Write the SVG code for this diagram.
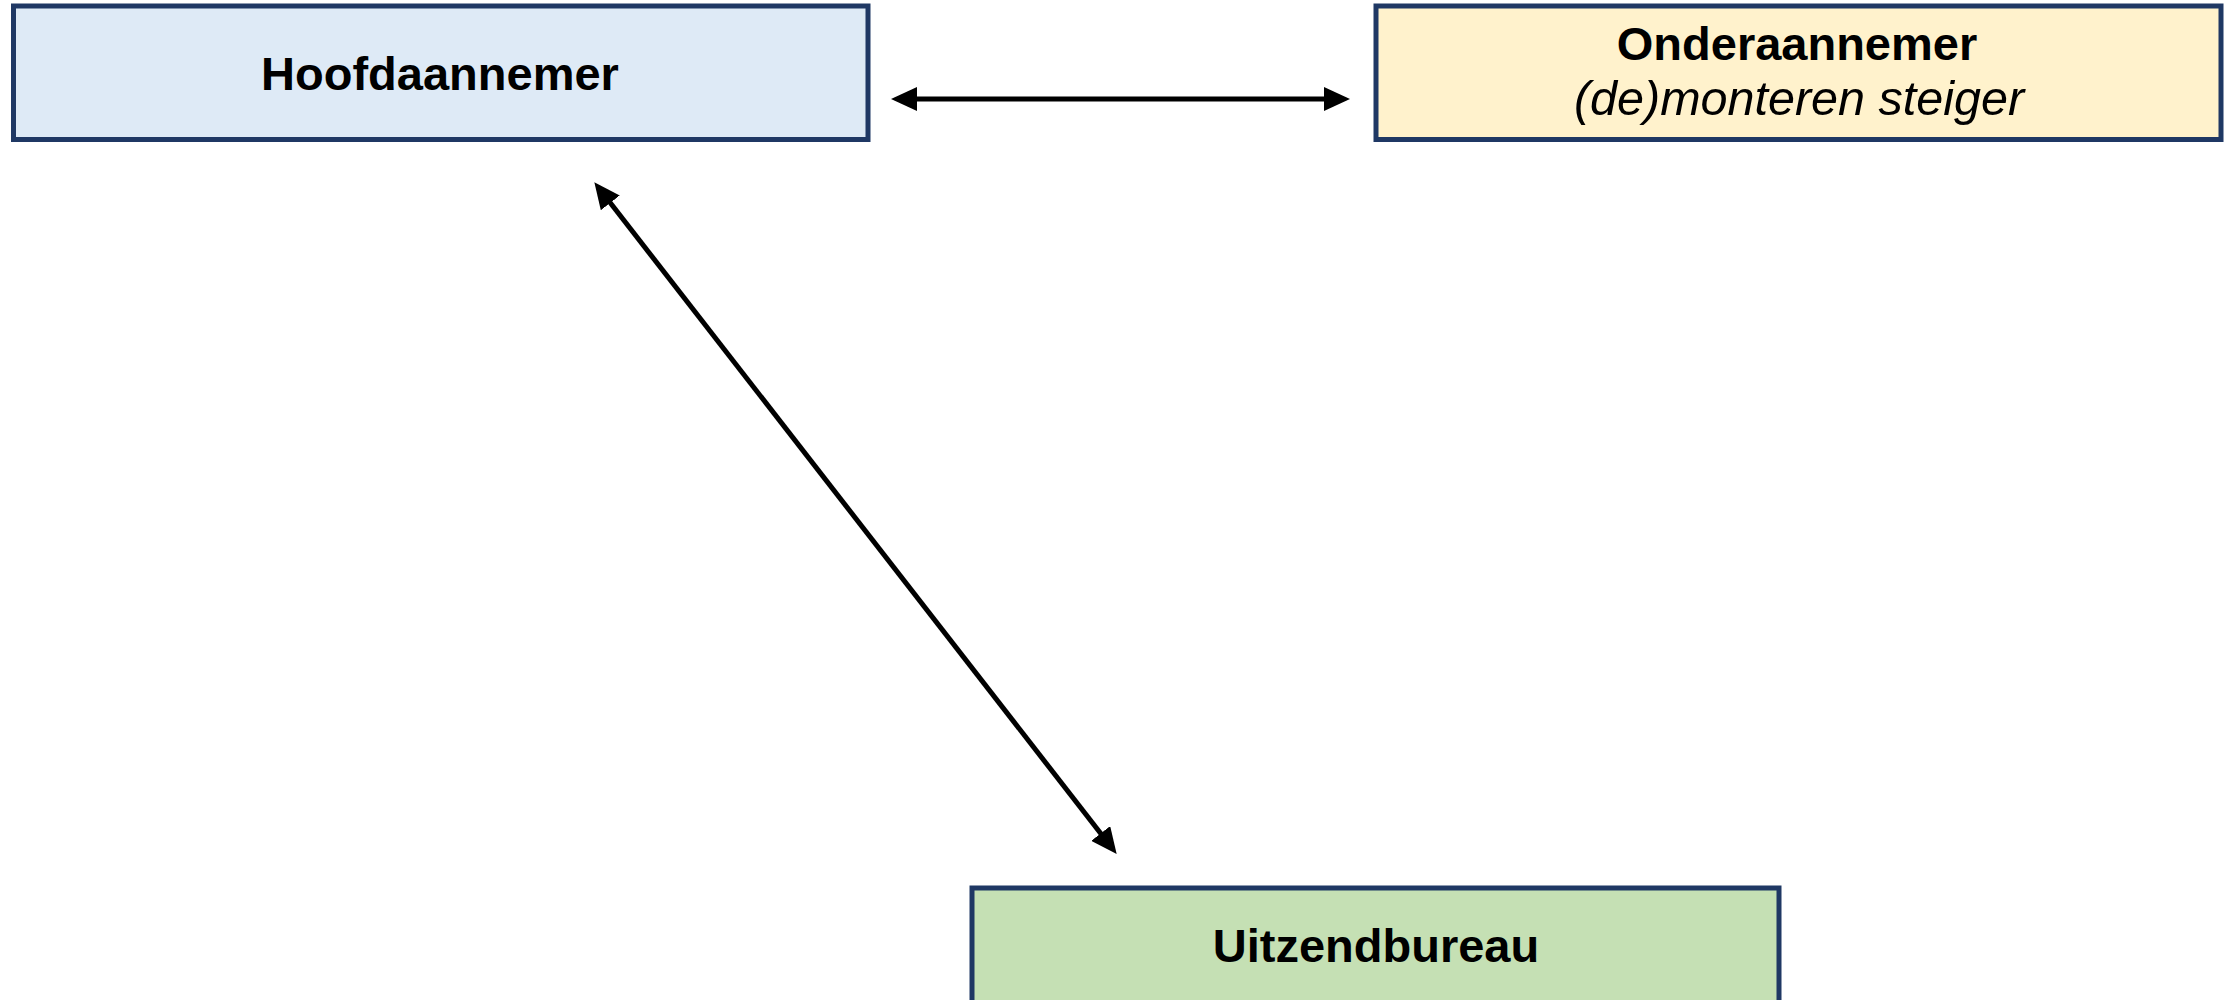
<svg xmlns="http://www.w3.org/2000/svg" width="2233" height="1000" viewBox="0 0 2233 1000">
<style>
.box{stroke:#1F3864;stroke-width:5}
.lbl{font-family:"Liberation Sans",Arial,sans-serif;font-weight:bold;font-size:47px;fill:#000;text-anchor:middle}
.sub{font-family:"Liberation Sans",Arial,sans-serif;font-style:italic;font-size:48.5px;fill:#000;text-anchor:middle}
.conn{stroke:#000;stroke-width:5;fill:none;marker-start:url(#ah);marker-end:url(#ah)}
</style>
<defs>
<marker id="ah" viewBox="0 0 26 24" refX="14" refY="12" markerWidth="26" markerHeight="24" markerUnits="userSpaceOnUse" orient="auto-start-reverse">
<path d="M0,0 L26,12 L0,24 Z" fill="#000"/>
</marker>
</defs>
<rect width="2233" height="1000" fill="#fff"/>
<g id="hoofdaannemer">
<rect class="box" x="13.5" y="6" width="854.5" height="133.5" fill="#DEEAF6"/>
<text class="lbl" x="440" y="90">Hoofdaannemer</text>
</g>
<g id="onderaannemer">
<rect class="box" x="1376" y="6" width="845" height="133.5" fill="#FFF2CC"/>
<text class="lbl" x="1797" y="60">Onderaannemer</text>
<text class="sub" x="1799" y="115">(de)monteren steiger</text>
</g>
<g id="uitzendbureau">
<rect class="box" x="972" y="888" width="807" height="130" fill="#C5E0B4"/>
<text class="lbl" x="1376" y="962">Uitzendbureau</text>
</g>
<g id="connectors">
<line class="conn" x1="903" y1="99" x2="1338" y2="99"/>
<line class="conn" x1="601.7" y1="191.8" x2="1109.3" y2="844.5"/>
</g>
</svg>
